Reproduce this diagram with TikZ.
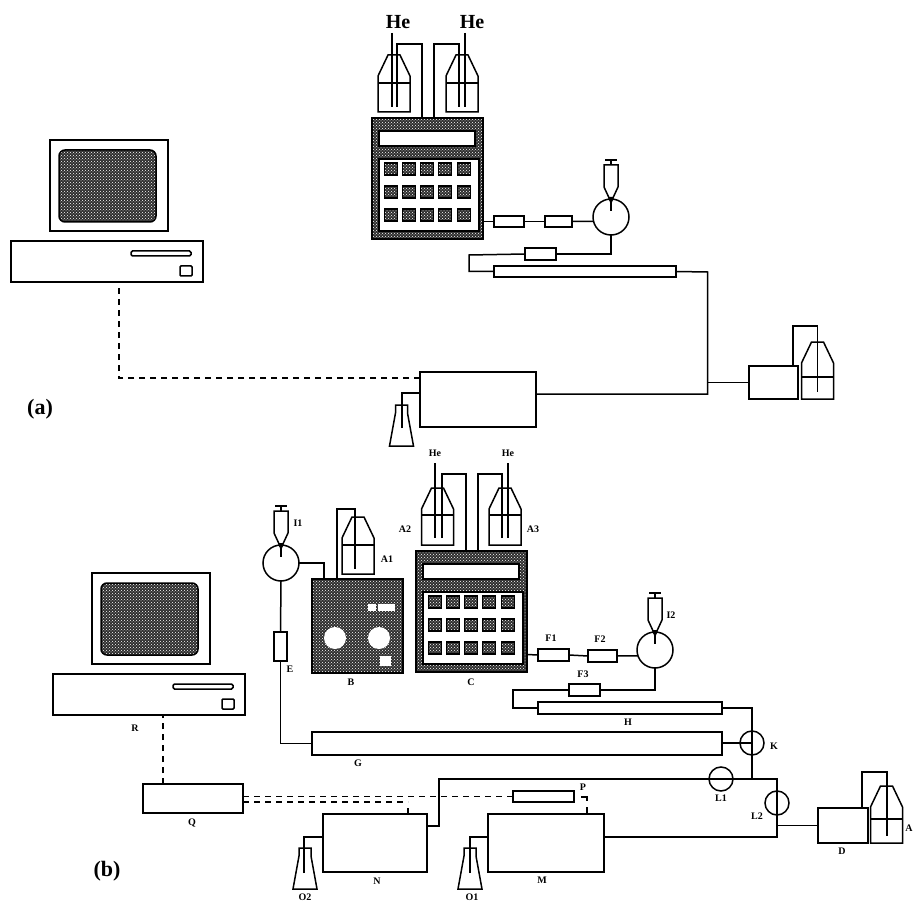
\documentclass[tikz,border=0pt]{standalone}
\usepackage{fontspec}
\setmainfont{Liberation Serif}
\usetikzlibrary{patterns}
\tikzset{
  hatch/.style={preaction={fill=black!82},pattern=crosshatch dots,pattern color=white},
  box/.style 2 args={draw,inner sep=0,outer sep=0,minimum width=#1,minimum height=#2},
  valve/.style={draw,circle,inner sep=0,outer sep=0,minimum size=#1},
  lbl/.style={inner sep=0,font=\fontsize{10}{10}\selectfont\bfseries},
  sig/.style={line width=1.2pt,dash pattern=on 6pt off 5pt},
  pics/bottle/.style={code={
    \draw (-16,0)--(-16,-36)--(-6,-57)--(6,-57)--(16,-36)--(16,0)--cycle;
    \draw (-16,-#1)--(16,-#1);
  }},
  pics/flask/.style={code={
    \draw (-12,0)--(-6,-33)--(-6,-41)--(6,-41)--(6,-33)--(12,0)--cycle;
  }},
  pics/injector/.style={code={
    \node[valve=36] (-v) at (0,0) {};
    \draw (-6,-57)--(6,-57) (0,-57)--(0,-52);
    \draw (-7,-52)--(7,-52)--(7,-30)--(1,-17)--(-1,-17)--(-7,-30)--cycle;
    \fill (-3,-20)--(3,-20)--(0,-12)--cycle;
    \draw (0,-17)--(0,-6);
  }},
  pics/pumpunit/.style={code={
    \node[box={111}{121},hatch] (-frame) at (55.5,60.5) {};
    \node[box={96}{15},fill=white] (-win) at (55,20.5) {};
    \node[box={100}{72},fill=white] (-pan) at (57,77) {};
    \foreach \bx in {19,37,55,73,92}
      \foreach \by in {51,74,97}
        \node[box={13}{12},hatch] at (\bx,\by) {};
    \coordinate (-out) at (111,103.5);
  }},
  pics/computer/.style={code={
    \node[box={118}{91}] (-mon) at (98,45.5) {};
    \node[box={97}{72},hatch,rounded corners=6pt] (-scr) at (96.5,46) {};
    \node[box={192}{41}] (-base) at (96,121.5) {};
    \node[box={60}{5},rounded corners=1.5pt] (-slot) at (150,113.5) {};
    \node[box={12}{10},rounded corners=1pt] (-key) at (175,131) {};
  }}
}
\begin{document}
\begin{tikzpicture}[x=1pt,y=-1pt,line width=1.5pt]
  \useasboundingbox (0,0) rectangle (913,901);

  % (a)
  \pic (pca) at (11,140) {computer};
  \pic (pa) at (372,118) {pumpunit};
  \pic at (394,112) {bottle=29}; \pic at (462,112) {bottle=29};
  \pic at (817.5,399) {bottle=22};
  \pic at (401.5,446) {flask};
  \pic (ia) at (611,217) {injector};
  \node[font=\fontsize{20}{20}\selectfont\bfseries] (hea) at (398,22) {He};
  \node[font=\fontsize{20}{20}\selectfont\bfseries] (heb) at (472,22) {He};
  \node[box={30}{11}] (fa1) at (509,221.5) {};
  \node[box={27}{11}] (fa2) at (558.5,221.5) {};
  \node[box={31}{12}] (fa3) at (540.5,254) {};
  \node[box={182}{11}] (cola) at (585,271.5) {};
  \node[box={116}{55}] (deta) at (478,399.5) {};
  \node[box={49}{33}] (da) at (773.5,382.5) {};
  \node[font=\fontsize{22}{22}\selectfont\bfseries] (laba) at (40,409) {(a)};

  \coordinate (na1) at (392,107); \coordinate (na2) at (397,107);
  \coordinate (na3) at (459,107); \coordinate (na4) at (465,107);
  \coordinate (ta1) at (422,44); \coordinate (ta2) at (434,44);
  \draw (na1 |- 0,33) -- (na1); \draw (na4 |- 0,33) -- (na4);
  \draw (na2) |- (ta1) -- (ta1 |- pa-frame.north);
  \draw (na3) |- (ta2) -- (ta2 |- pa-frame.north);
  \draw (pa-out) -- (fa1.west); \draw (fa1.east) -- (fa2.west); \draw (fa2.east) -- (ia-v.194);
  \coordinate (ta3) at (469,255);
  \draw (ia-v.south) |- (fa3.east); \draw (fa3.west) -- (ta3) |- (cola.west);
  \coordinate (ta4) at (707.5,272); \coordinate (ta5) at (536,394);
  \draw (cola.east) -- (ta4) |- (ta5);
  \draw (ta4 |- da.west) -- (da.west);
  \coordinate (ta6) at (793,366); \coordinate (na5) at (817.5,392);
  \draw (ta6) |- (817.5,326) -- (na5);
  \coordinate (na6) at (402,428); \coordinate (ta7) at (420,393);
  \draw (na6) |- (ta7);
  \coordinate (sa) at (420,378); \coordinate (sb) at (119,378);
  \draw[sig] (sa) -- (sb) -- (sb |- pca-base.south);

  % (b)
  \pic (pcb) at (53,573) {computer};
  \pic (pb) at (416,551) {pumpunit};
  \pic at (437.5,545) {bottle=30}; \pic at (505,545) {bottle=30};
  \pic at (358,574) {bottle=29};
  \pic at (886.5,843) {bottle=24};
  \pic at (305,889) {flask}; \pic at (470,889) {flask};
  \pic (i1) at (281,563) {injector};
  \pic (i2) at (655,650) {injector};
  \node[box={91}{94},hatch] (b) at (357.5,626) {};
  \node[box={8}{7},fill=white,draw=none] (bs1) at (372,607.5) {};
  \node[box={17}{7},fill=white,draw=none] (bs2) at (386.5,607.5) {};
  \node[valve=22,fill=white,draw=none] (bk1) at (335,638) {};
  \node[valve=22,fill=white,draw=none] (bk2) at (379,638) {};
  \node[box={11}{10},fill=white,draw=none] (bs3) at (385.5,661) {};
  \node[box={13}{29}] (e) at (280.5,646.5) {};
  \node[box={31}{12}] (f1) at (553.5,655) {};
  \node[box={29}{12}] (f2) at (602.5,656) {};
  \node[box={31}{12}] (f3) at (584.5,690) {};
  \node[box={184}{12}] (h) at (630,708) {};
  \node[box={410}{23}] (g) at (517,743.5) {};
  \node[box={61}{11}] (p) at (543.5,796.5) {};
  \node[box={100}{29}] (q) at (193,798.5) {};
  \node[box={104}{58}] (n) at (375,843) {};
  \node[box={116}{58}] (m) at (546,843) {};
  \node[box={50}{35}] (d) at (843,825.5) {};
  \node[valve=24] (k) at (752,743) {};
  \node[valve=24] (l1) at (721,779) {};
  \node[valve=24] (l2) at (777,803) {};

  \node[lbl] (lhe1) at (435,453) {He}; \node[lbl] (lhe2) at (508,453) {He};
  \node[lbl] (li1) at (298,523) {I1}; \node[lbl] (li2) at (671,615) {I2};
  \node[lbl] (la) at (909,828) {A}; \node[lbl] (la1) at (387,559) {A1};
  \node[lbl] (la2) at (405,529) {A2}; \node[lbl] (la3) at (533,529) {A3};
  \node[lbl] (lb) at (351,682) {B}; \node[lbl] (lc) at (471,682) {C};
  \node[lbl] (ld) at (842,851) {D}; \node[lbl] (le) at (290,669) {E};
  \node[lbl] (lf1) at (551,638) {F1}; \node[lbl] (lf2) at (600,639) {F2};
  \node[lbl] (lf3) at (583,674) {F3}; \node[lbl] (lg) at (358,763) {G};
  \node[lbl] (lh) at (628,722) {H}; \node[lbl] (lk) at (774,746) {K};
  \node[lbl] (ll1) at (721,798) {L1}; \node[lbl] (ll2) at (757,816) {L2};
  \node[lbl] (lm) at (542,880) {M}; \node[lbl] (ln) at (377,881) {N};
  \node[lbl] (lo1) at (472,897) {O1}; \node[lbl] (lo2) at (305,897) {O2};
  \node[lbl] (lp) at (583,787) {P}; \node[lbl] (lq) at (192,823) {Q};
  \node[lbl] (lr) at (135,728) {R};
  \node[font=\fontsize{22}{22}\selectfont\bfseries] (labb) at (107,871) {(b)};

  \coordinate (nb1) at (435,538); \coordinate (nb2) at (442,538);
  \coordinate (nb3) at (502,538); \coordinate (nb4) at (508,538);
  \coordinate (tb1) at (466,474); \coordinate (tb2) at (478,474);
  \draw (nb1 |- 0,463) -- (nb1); \draw (nb4 |- 0,463) -- (nb4);
  \draw (nb2) |- (tb1) -- (tb1 |- pb-frame.north);
  \draw (nb3) |- (tb2) -- (tb2 |- pb-frame.north);
  \draw (pb-out) -- (f1.west); \draw (f1.east) -- (f2.west); \draw (f2.east) -- (i2-v.199);
  \coordinate (tb3) at (513,690);
  \draw (i2-v.south) |- (f3.east); \draw (f3.west) -- (tb3) |- (h.west);
  \draw (h.east) -| (k.north) -- (k.south) -- (k.south |- l1.center);
  \draw (g.east |- k.west) -- (k.center);
  \coordinate (tb4) at (324,579);
  \draw (i1-v.east) -| (tb4);
  \coordinate (tb5) at (337,579); \coordinate (nb5) at (355,569);
  \draw (tb5) |- (355,509) -- (nb5);
  \draw (i1-v.south) -- (e.north); \draw (e.south) |- (g.west);
  \coordinate (tb6) at (427,826); \coordinate (tb7) at (439,779);
  \coordinate (tb8) at (777,779); \coordinate (tb9) at (777,837);
  \coordinate (tb10) at (604,837);
  \draw (tb6) -| (tb7) -- (l1.west) -- (l1.east) -- (tb8) -- (l2.north) -- (l2.south) -- (tb9) -- (tb10);
  \draw (tb9 |- d.west) -- (d.west);
  \coordinate (tb11) at (862,808); \coordinate (nb6) at (887,836);
  \draw (tb11) |- (887,772) -- (nb6);
  \coordinate (no2) at (304,873); \coordinate (no1) at (470,873);
  \coordinate (tn) at (323,837); \coordinate (tm) at (488,837);
  \draw (no2) |- (tn); \draw (no1) |- (tm);
  \coordinate (qr) at (163,784);
  \draw[sig] (qr) -- (qr |- pcb-base.south);
  \draw[sig] (q.east |- p.west) -- (p.west);
  \coordinate (tq) at (243,802); \coordinate (qn) at (408,802);
  \draw[sig] (tq) -- (qn);
  \draw[line width=1.2pt] (qn |- 0,808) -- (qn |- n.north);
  \coordinate (pn) at (581,797);
  \draw[line width=1.2pt] (pn) -| (587,801);
  \draw[line width=1.2pt] (587,807) -- (587,814);
\end{tikzpicture}
\end{document}
